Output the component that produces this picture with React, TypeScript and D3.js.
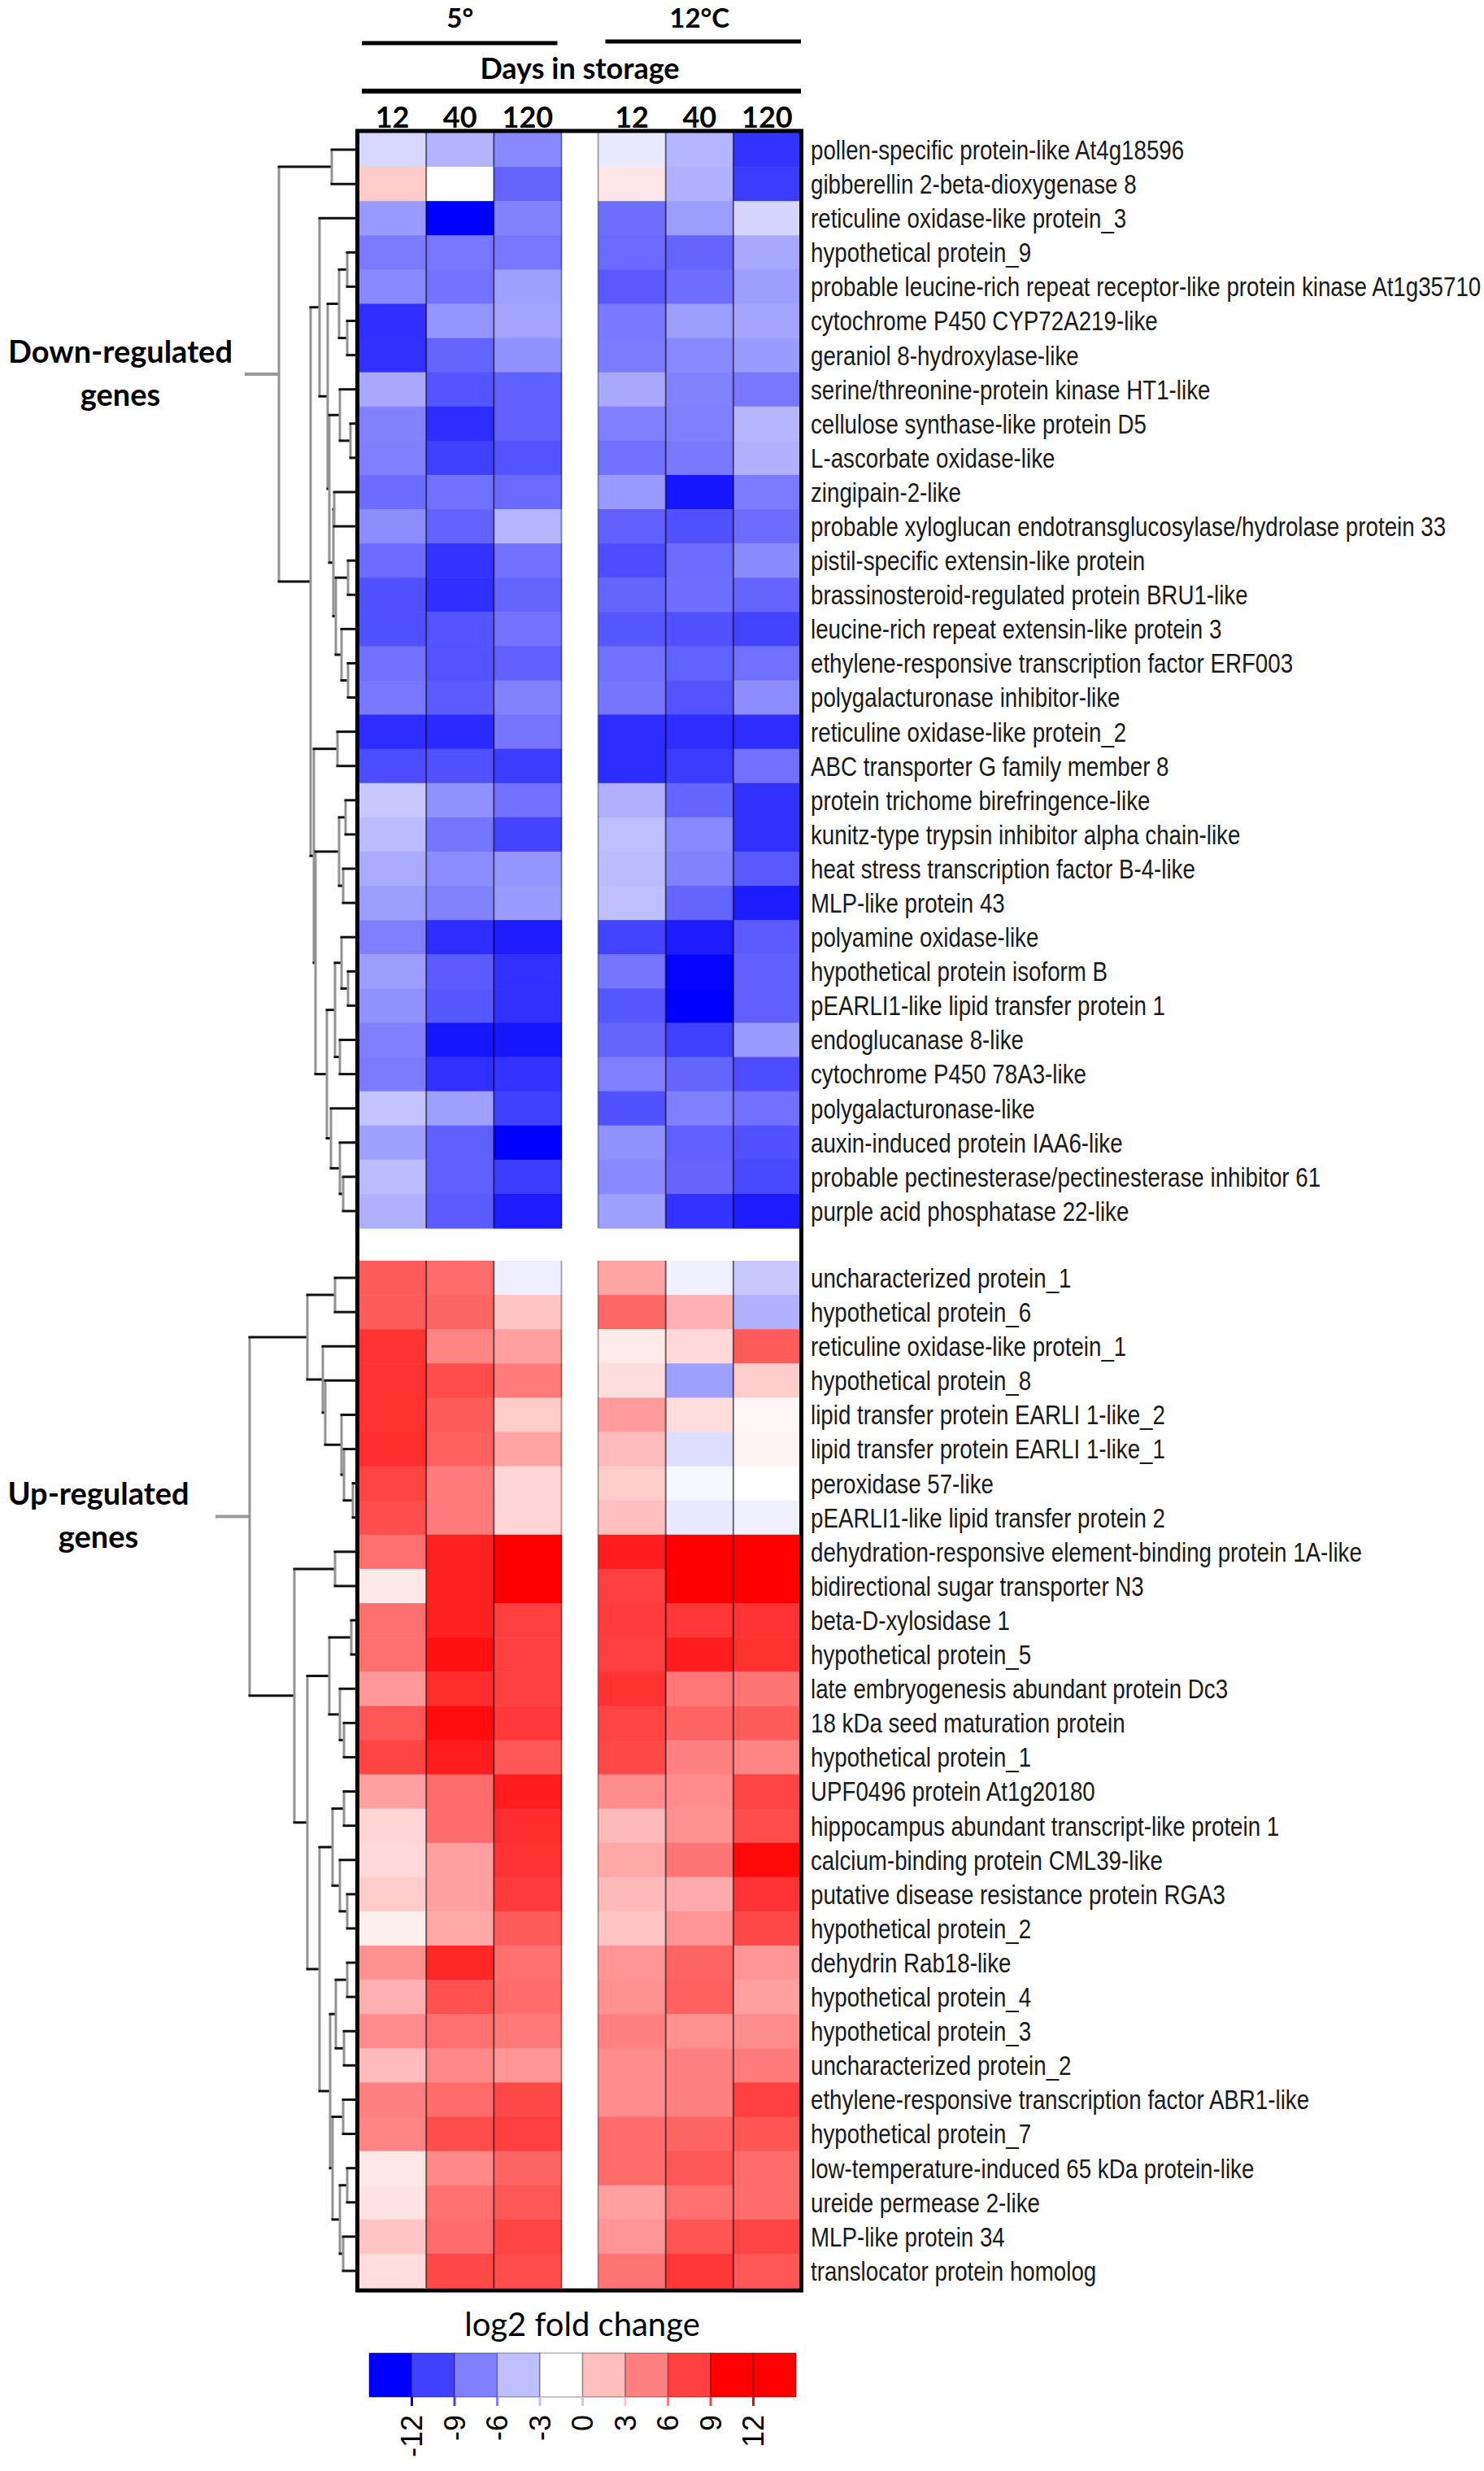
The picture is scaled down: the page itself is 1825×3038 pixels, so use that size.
import * as d3 from "d3";

const temps = ["5°", "12°C"];
const days = ["12", "40", "120"];

const downGenes = [
  "pollen-specific protein-like At4g18596",
  "gibberellin 2-beta-dioxygenase 8",
  "reticuline oxidase-like protein_3",
  "hypothetical protein_9",
  "probable leucine-rich repeat receptor-like protein kinase At1g35710",
  "cytochrome P450 CYP72A219-like",
  "geraniol 8-hydroxylase-like",
  "serine/threonine-protein kinase HT1-like",
  "cellulose synthase-like protein D5",
  "L-ascorbate oxidase-like",
  "zingipain-2-like",
  "probable xyloglucan endotransglucosylase/hydrolase protein 33",
  "pistil-specific extensin-like protein",
  "brassinosteroid-regulated protein BRU1-like",
  "leucine-rich repeat extensin-like protein 3",
  "ethylene-responsive transcription factor ERF003",
  "polygalacturonase inhibitor-like",
  "reticuline oxidase-like protein_2",
  "ABC transporter G family member 8",
  "protein trichome birefringence-like",
  "kunitz-type trypsin inhibitor alpha chain-like",
  "heat stress transcription factor B-4-like",
  "MLP-like protein 43",
  "polyamine oxidase-like",
  "hypothetical protein isoform B",
  "pEARLI1-like lipid transfer protein 1",
  "endoglucanase 8-like",
  "cytochrome P450 78A3-like",
  "polygalacturonase-like",
  "auxin-induced protein IAA6-like",
  "probable pectinesterase/pectinesterase inhibitor 61",
  "purple acid phosphatase 22-like",
];

const upGenes = [
  "uncharacterized protein_1",
  "hypothetical protein_6",
  "reticuline oxidase-like protein_1",
  "hypothetical protein_8",
  "lipid transfer protein EARLI 1-like_2",
  "lipid transfer protein EARLI 1-like_1",
  "peroxidase 57-like",
  "pEARLI1-like lipid transfer protein 2",
  "dehydration-responsive element-binding protein 1A-like",
  "bidirectional sugar transporter N3",
  "beta-D-xylosidase 1",
  "hypothetical protein_5",
  "late embryogenesis abundant protein Dc3",
  "18 kDa seed maturation protein",
  "hypothetical protein_1",
  "UPF0496 protein At1g20180",
  "hippocampus abundant transcript-like protein 1",
  "calcium-binding protein CML39-like",
  "putative disease resistance protein RGA3",
  "hypothetical protein_2",
  "dehydrin Rab18-like",
  "hypothetical protein_4",
  "hypothetical protein_3",
  "uncharacterized protein_2",
  "ethylene-responsive transcription factor ABR1-like",
  "hypothetical protein_7",
  "low-temperature-induced 65 kDa protein-like",
  "ureide permease 2-like",
  "MLP-like protein 34",
  "translocator protein homolog",
];

// log2 fold change: 5° (12, 40, 120 d) then 12°C (12, 40, 120 d)
const downValues = [
  [-1.9, -3.6, -5.6, -1.0, -3.5, -9.6],
  [2.4, 0, -7.3, 1.2, -3.7, -9.2],
  [-4.8, -12, -5.9, -6.8, -4.6, -2.0],
  [-6.2, -6.4, -6.4, -7.0, -7.3, -4.1],
  [-5.6, -6.6, -4.5, -7.8, -6.8, -4.6],
  [-9.8, -5.0, -4.3, -6.3, -4.6, -4.3],
  [-9.7, -7.3, -5.2, -6.2, -5.6, -4.7],
  [-4.1, -8.0, -7.5, -4.1, -5.9, -6.4],
  [-5.9, -9.9, -7.5, -6.0, -6.0, -3.5],
  [-6.0, -9.0, -8.1, -6.7, -6.3, -3.7],
  [-6.9, -6.7, -7.0, -4.8, -10.9, -6.2],
  [-5.4, -7.4, -3.5, -7.5, -8.2, -6.9],
  [-6.9, -9.6, -6.7, -8.4, -6.9, -5.5],
  [-8.2, -9.8, -7.3, -7.3, -6.8, -7.3],
  [-8.2, -8.0, -6.6, -7.9, -8.2, -8.8],
  [-6.7, -8.1, -7.5, -6.7, -7.4, -6.7],
  [-6.4, -7.7, -5.9, -6.5, -8.1, -5.4],
  [-9.9, -10.0, -6.5, -9.9, -9.9, -9.9],
  [-8.4, -8.2, -9.2, -9.9, -9.2, -6.7],
  [-2.6, -5.2, -6.7, -3.7, -7.3, -9.7],
  [-3.2, -6.5, -8.8, -3.0, -5.6, -9.7],
  [-4.0, -5.4, -5.0, -3.2, -5.9, -7.8],
  [-4.6, -5.9, -4.7, -3.0, -7.3, -10.7],
  [-6.0, -9.9, -10.7, -8.8, -10.7, -7.7],
  [-4.6, -7.7, -9.7, -6.5, -11.8, -7.5],
  [-5.2, -7.9, -9.7, -7.9, -12, -7.5],
  [-6.0, -10.9, -10.9, -7.3, -9.0, -4.8],
  [-6.2, -9.7, -9.6, -6.0, -7.3, -8.4],
  [-2.8, -4.5, -9.0, -8.2, -6.0, -6.7],
  [-4.5, -7.5, -12, -5.2, -7.5, -8.2],
  [-3.2, -7.5, -9.2, -5.6, -7.2, -8.6],
  [-3.7, -7.7, -10.7, -4.5, -9.6, -10.7],
];

const upValues = [
  [7.7, 6.9, -0.8, 4.3, -0.7, -2.6],
  [7.7, 7.3, 2.8, 7.2, 3.7, -3.7],
  [9.6, 5.8, 4.5, 1.0, 1.8, 7.7],
  [9.6, 8.4, 6.2, 1.6, -4.5, 2.4],
  [9.7, 7.7, 2.4, 4.7, 1.6, 0.4],
  [9.9, 7.5, 4.3, 3.2, -1.6, 0.5],
  [8.8, 6.2, 2.0, 2.4, -0.4, 0],
  [8.4, 6.2, 2.0, 3.0, -1.1, -0.7],
  [6.7, 10.5, 12, 10.7, 12, 12],
  [1.1, 10.5, 12, 9.0, 12, 12],
  [6.7, 10.5, 9.0, 9.2, 9.4, 9.6],
  [6.7, 11.2, 9.0, 9.0, 10.7, 9.7],
  [4.8, 9.9, 9.0, 9.7, 6.4, 6.5],
  [7.9, 11.4, 9.3, 8.8, 7.3, 7.7],
  [8.8, 10.7, 7.9, 8.6, 6.0, 5.8],
  [4.5, 6.9, 10.7, 5.4, 5.4, 8.8],
  [2.0, 6.9, 9.9, 3.3, 5.2, 8.4],
  [1.8, 4.5, 9.6, 4.1, 6.5, 11.6],
  [2.4, 4.5, 9.2, 3.3, 4.0, 9.6],
  [0.7, 4.1, 7.7, 2.8, 5.0, 8.6],
  [5.2, 10.1, 6.7, 5.0, 7.3, 5.0],
  [3.7, 8.2, 6.9, 5.2, 7.5, 4.5],
  [5.4, 6.7, 6.3, 6.0, 5.2, 5.4],
  [3.2, 5.6, 5.0, 5.4, 6.0, 6.2],
  [6.0, 6.9, 8.6, 5.4, 6.0, 9.0],
  [5.8, 8.4, 9.0, 6.9, 7.3, 8.0],
  [1.1, 5.6, 7.3, 6.9, 7.9, 6.9],
  [1.3, 6.7, 7.9, 4.5, 6.7, 6.9],
  [2.8, 6.9, 8.8, 5.0, 8.0, 8.8],
  [1.6, 8.6, 8.4, 6.5, 9.4, 7.9],
];

// dendrograms: [merge height, left, right], leaves are row indices
type Tree = number | [number, Tree, Tree];

const downTree: Tree = [9.7,
  [3.2, 0, 1],
  [5.8,
    [4.7, 2,
      [3.7,
        [2.3, [1.3, 3, 4], [1.3, 5, 6]],
        [3.5,
          [2.2, 7, [0.9, 8, 9]],
          [3.0, [2.9, 10, 11], [2.7, [1.2, 12, 13], [2.0, 14, [1.2, 15, 16]]]]]]],
    [5.4, [2.5, 17, 18],
      [5.2,
        [2.3, [1.5, 19, 20], [1.8, 21, 22]],
        [3.8,
          [2.8, [2.0, 23, [1.2, 24, 25]], [2.2, 26, 27]],
          [3.3, 28, [2.2, 29, [1.8, 30, 31]]]]]]]];

const upTree: Tree = [13.3,
  [6.2, [2.8, 0, 1], [4.3, 2, [4.0, 3, [2.0, 4, [1.7, 5, [0.6, 6, 7]]]]]],
  [7.8, [2.8, 8, 9],
    [6.2,
      [3.5, [0.8, 10, 11], [2.2, 12, [1.7, 13, 14]]],
      [4.7,
        [3.1, [1.7, 15, 16], [2.2, 17, [1.3, 18, 19]]],
        [3.4,
          [2.7, [1.3, 20, 21], [1.7, 22, 23]],
          [3.1, [1.8, 24, 25], [2.2, [1.3, 26, 27], [1.8, 28, 29]]]]]]]];

const legendSteps = [-12, -9, -6, -3, 0, 3, 6, 9, 12, 12];
const legendTicks = [-12, -9, -6, -3, 0, 3, 6, 9, 12];

const W = 1825;
const H = 3038;
const headFont = "Lato, 'Open Sans', sans-serif";
const geneFont = "'Liberation Sans', Arial, sans-serif";

const color = d3
  .scaleLinear<string>()
  .domain([-12, 0, 12])
  .range(["#0000ff", "#ffffff", "#ff0000"])
  .clamp(true);

const xTemp = d3.scaleBand<string>().domain(temps).range([441, 985]).paddingInner(0.153);
const xDay = d3.scaleBand<string>().domain(days).range([0, xTemp.bandwidth()]);
const colX = (j: number) => xTemp(temps[Math.floor(j / 3)])! + xDay(days[j % 3])!;

const yDown = d3.scaleBand<string>().domain(downGenes).range([163, 1510]);
const yUp = d3.scaleBand<string>().domain(upGenes).range([1550, 2813]);

const xDist = d3.scaleLinear().domain([0, 14]).range([440, 300]);

function Block({ genes, values, y }: { genes: string[]; values: number[][]; y: d3.ScaleBand<string> }) {
  const bw = xDay.bandwidth();
  return (
    <g>
      {genes.map((g, i) =>
        values[i].map((v, j) => (
          <rect key={g + j} x={colX(j)} y={y(g)} width={bw + 0.6} height={y.bandwidth() + 0.6} fill={color(v)} />
        ))
      )}
      {d3.range(6).map((j) => (
        <g key={j} stroke="rgba(0,0,0,0.32)" strokeWidth={2}>
          <line x1={colX(j)} x2={colX(j)} y1={y.range()[0]} y2={y.range()[1]} />
          <line x1={colX(j) + bw} x2={colX(j) + bw} y1={y.range()[0]} y2={y.range()[1]} />
        </g>
      ))}
      {genes.map((g) => (
        <text
          key={g}
          transform={`translate(997,${y(g)! + y.bandwidth() / 2}) scale(0.84,1)`}
          dy="0.36em"
          fontFamily={geneFont}
          fontSize={33}
          fill="#1a1a1a"
        >
          {g}
        </text>
      ))}
    </g>
  );
}

function Dendrogram({
  tree,
  genes,
  y,
  label,
  labelX,
}: {
  tree: Tree;
  genes: string[];
  y: d3.ScaleBand<string>;
  label: string;
  labelX: number;
}) {
  const root = d3.hierarchy<Tree>(tree, (d) => (Array.isArray(d) ? [d[1], d[2]] : null));
  const ny = new Map<d3.HierarchyNode<Tree>, number>();
  root.eachAfter((n) => {
    if (!n.children) ny.set(n, y(genes[n.data as number])! + y.bandwidth() / 2);
    else ny.set(n, (ny.get(n.children[0])! + ny.get(n.children[1])!) / 2);
  });
  const nx = (n: d3.HierarchyNode<Tree>) => xDist(Array.isArray(n.data) ? n.data[0] : 0);
  const inner = root.descendants().filter((n) => n.children);
  const rx = nx(root);
  const ry = ny.get(root)!;
  return (
    <g>
      {inner.map((n, i) => (
        <g key={i}>
          <line
            x1={nx(n)}
            x2={nx(n)}
            y1={ny.get(n.children![0])!}
            y2={ny.get(n.children![1])!}
            stroke="#939393"
            strokeWidth={3}
          />
          {n.children!.map((c, k) => (
            <line
              key={k}
              x1={nx(n) - 1.5}
              x2={nx(c)}
              y1={ny.get(c)!}
              y2={ny.get(c)!}
              stroke="#111"
              strokeWidth={3}
            />
          ))}
        </g>
      ))}
      <line x1={rx - 42} x2={rx} y1={ry} y2={ry} stroke="#999" strokeWidth={4} />
      <text x={labelX} y={ry - 14} textAnchor="middle" fontFamily={headFont} fontWeight={700} fontSize={38}>
        {label}
      </text>
      <text x={labelX} y={ry + 39} textAnchor="middle" fontFamily={headFont} fontWeight={700} fontSize={38}>
        genes
      </text>
    </g>
  );
}

function Header() {
  const full = [xTemp(temps[0])!, xTemp(temps[1])! + xTemp.bandwidth()];
  return (
    <g fontFamily={headFont} fontWeight={700} fill="#000">
      {temps.map((t, i) => {
        const x0 = xTemp(t)!;
        return (
          <g key={t}>
            <text x={x0 + xTemp.bandwidth() / 2} y={34} textAnchor="middle" fontSize={33}>
              {t}
            </text>
            <line
              x1={x0 + (i === 0 ? 4 : 9)}
              x2={x0 + xTemp.bandwidth() - (i === 0 ? 5 : 0)}
              y1={i === 0 ? 53 : 51}
              y2={i === 0 ? 53 : 51}
              stroke="#000"
              strokeWidth={5}
            />
            {days.map((d) => (
              <text
                key={d}
                x={x0 + xDay(d)! + xDay.bandwidth() / 2}
                y={157}
                textAnchor="middle"
                fontSize={36}
              >
                {d}
              </text>
            ))}
          </g>
        );
      })}
      <text x={(full[0] + full[1]) / 2} y={97} textAnchor="middle" fontSize={36}>
        Days in storage
      </text>
      <line x1={full[0] + 4} x2={full[1]} y1={112} y2={112} stroke="#000" strokeWidth={6} />
    </g>
  );
}

function Legend() {
  const xL = d3.scaleBand<number>().domain(d3.range(legendSteps.length)).range([454, 979]);
  const top = 2893;
  const h = 54;
  return (
    <g>
      <text x={716} y={2872} textAnchor="middle" fontFamily={headFont} fontSize={40}>
        log2 fold change
      </text>
      {legendSteps.map((v, i) => (
        <rect
          key={i}
          x={xL(i)}
          y={top}
          width={xL.bandwidth()}
          height={h}
          fill={color(v)}
          stroke="rgba(0,0,0,0.3)"
          strokeWidth={1.5}
        />
      ))}
      {legendTicks.map((v, i) => {
        const x = xL(i)! + xL.bandwidth();
        return (
          <g key={i}>
            <line x1={x} x2={x} y1={top + h} y2={top + h + 11} stroke={v === 0 ? "#ccc" : color(v)} strokeWidth={3} />
            <text
              transform={`translate(${x},${top + h + 22}) rotate(-90)`}
              textAnchor="end"
              dy="0.36em"
              fontFamily="'Liberation Sans', Arial, sans-serif"
              fontSize={36}
            >
              {v}
            </text>
          </g>
        );
      })}
    </g>
  );
}

export default function App() {
  return (
    <svg
      width={W}
      height={H}
      viewBox={`0 0 ${W} ${H}`}
      style={{ position: "absolute", left: 0, top: 0, background: "#fff" }}
    >
      <rect width={W} height={H} fill="#fff" />
      <Header />
      <Block genes={downGenes} values={downValues} y={yDown} />
      <Block genes={upGenes} values={upValues} y={yUp} />
      <rect x={439.5} y={161} width={546} height={2655} fill="none" stroke="#000" strokeWidth={5} />
      <Dendrogram tree={downTree} genes={downGenes} y={yDown} label="Down-regulated" labelX={148} />
      <Dendrogram tree={upTree} genes={upGenes} y={yUp} label="Up-regulated" labelX={121} />
      <Legend />
    </svg>
  );
}
